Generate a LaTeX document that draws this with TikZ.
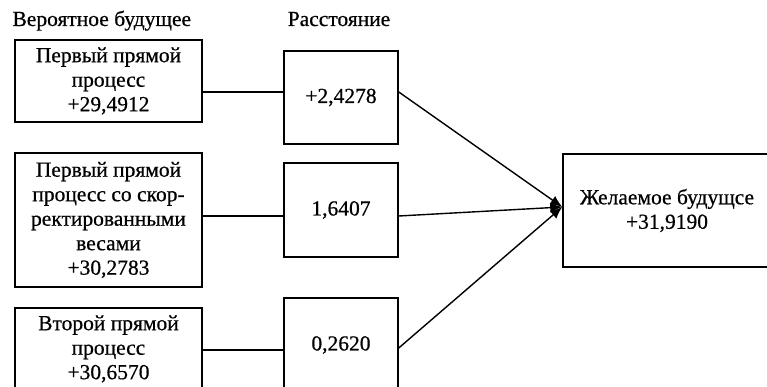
\documentclass[tikz,border=0pt]{standalone}
\usepackage{fontspec}
\setmainfont[FakeBold=0.6]{Liberation Serif}
\usetikzlibrary{arrows.meta}
\begin{document}
\begin{tikzpicture}[x=1pt,y=1pt,
  txt/.style={font=\fontsize{21.5}{24.5}\selectfont},
  box/.style={draw, line width=1.5pt, inner sep=0pt, align=center, txt},
  sidebox/.style={box, minimum width=187pt},
  distbox/.style={box, minimum width=114pt, minimum height=94pt},
  head/.style={txt, anchor=base},
  link/.style={line width=1.4pt},
  feed/.style={line width=1.4pt, -{Latex[length=12pt,width=10pt]}}]
\useasboundingbox (0,0) rectangle (767,387);

% column headings
\node[head, anchor=base west] (hprob) at (9,361) {Вероятное будущее};
\node[head] (hdist) at (339,361) {Расстояние};

% probable futures
\node[sidebox, minimum height=82pt] (b1) at (108.5,306) {Первый прямой\\процесс\\+29,4912};
\node[sidebox, minimum height=134pt] (b2) at (108.5,167) {Первый прямой\\процесс со скор-\\ректированными\\весами\\+30,2783};
\node[sidebox, minimum height=82pt] (b3) at (108.5,38) {Второй прямой\\процесс\\+30,6570};

% distances
\node[distbox, minimum height=93pt] (m1) at (341,289.5) {+2,4278};
\node[distbox] (m2) at (341,177) {1,6407};
\node[distbox] (m3) at (341,42) {0,2620};

% desired future
\node[box, minimum width=208pt, minimum height=113pt] (r) at (667,176.5) {Желаемое будущсе\\+31,9190};

% attachment points
\coordinate (p1) at ([yshift=5.5pt]m1.west);
\coordinate (p2) at ([yshift=-6pt]m2.west);
\coordinate (p3) at ([yshift=-5pt]m3.west);
\coordinate (q1) at ([yshift=5.5pt]m1.east);
\coordinate (q2) at ([yshift=-6pt]m2.east);
\coordinate (q3) at ([yshift=-3pt]m3.east);
\coordinate (tip) at ([yshift=3.5pt]r.west);

\draw[link] (b1.east |- p1) -- (p1);
\draw[link] (b2.east |- p2) -- (p2);
\draw[link] (b3.east |- p3) -- (p3);

\draw[feed] (q1) -- (tip);
\draw[feed] (q2) -- (tip);
\draw[feed] (q3) -- (tip);
\end{tikzpicture}
\end{document}
